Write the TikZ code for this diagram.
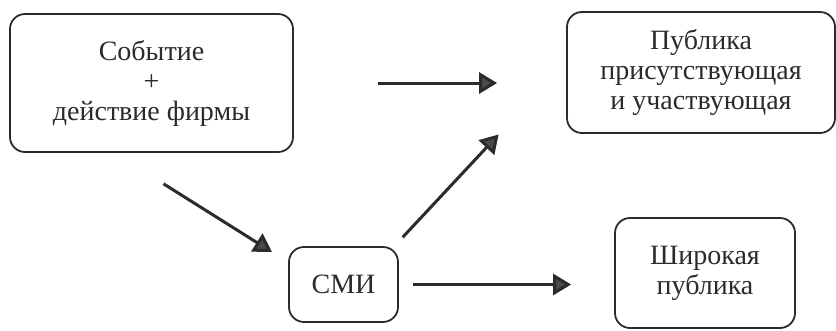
\documentclass[tikz,border=0pt]{standalone}
\usepackage{fontspec}
\setmainfont{Liberation Serif}
\usetikzlibrary{arrows.meta}
\definecolor{inkgray}{HTML}{2B2B2B}
\tikzset{
  every picture/.style={x=1pt, y=-1pt},
  block/.style={draw=inkgray, line width=1.8pt, rounded corners=15pt, align=center,
    text=inkgray, inner sep=0pt, font=\fontsize{28}{30}\selectfont},
  arr/.style={draw=inkgray, line width=3pt,
    -{Triangle[length=18pt, width=21pt, fill=inkgray!85]}}
}

\begin{document}
\begin{tikzpicture}
  \useasboundingbox (0,0) rectangle (836,330);

  \node [block, minimum width=283pt, minimum height=138pt] (event) at (151.5,83) {Событие\\+\\действие фирмы};
  \node [block, minimum width=268pt, minimum height=121pt] (pub) at (701,72.5) {Публика\\присутствующая\\и участвующая};
  \node [block, minimum width=109pt, minimum height=75pt] (smi) at (343.5,284.5) {СМИ};
  \node [block, minimum width=180pt, minimum height=110pt] (wide) at (705,273) {Широкая\\публика};

  \coordinate (aim) at (500,133);

  \draw [arr, shorten <=84pt, shorten >=69pt] (event.east) -- (event.east -| pub.west);
  \draw [arr, shorten <=58pt, shorten >=19pt] (event.242) -- (smi.158.5);
  \draw [arr, shorten <=12pt, shorten >=2pt] (smi.37) -- (aim);
  \draw [arr, shorten <=14pt, shorten >=43pt] (smi.east) -- (smi.east -| wide.west);
\end{tikzpicture}
\end{document}
